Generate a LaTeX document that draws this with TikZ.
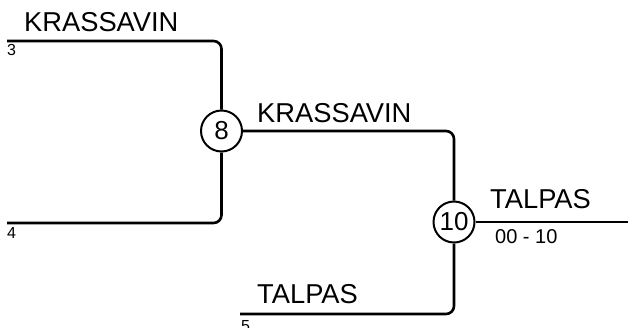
\documentclass[tikz,border=0pt]{standalone}
\usepackage{fontspec}
\setmainfont{Liberation Sans}
\begin{document}
\begin{tikzpicture}[x=1pt,y=-1pt,
  conn/.style={line width=2.6pt, rounded corners=8pt},
  match/.style={circle, draw, line width=2pt, minimum size=41pt, inner sep=0pt, font=\fontsize{26}{26}\selectfont},
  pname/.style={anchor=base west, inner sep=0pt, font=\fontsize{27.3}{28}\selectfont},
  seed/.style={anchor=base west, inner sep=0pt, font=\fontsize{16}{16}\selectfont},
  score/.style={anchor=base west, inner sep=0pt, font=\fontsize{20}{20}\selectfont}]
\useasboundingbox (0,0) rectangle (628,327);
\node[match] (c8) at (221.5,131) {8};
\node[match] (c10) at (454,222) {10};
\coordinate (s3) at (7,41);
\coordinate (s4) at (7,223);
\coordinate (s5) at (240,314);
\coordinate (fin) at (628,222);
\draw[conn] (s3) -| (c8.north);
\draw[conn] (s4) -| (c8.south);
\draw[conn] (c8.east) -| (c10.north);
\draw[conn] (s5) -| (c10.south);
\draw[conn] (c10.east) -- (fin);
\node[pname] (n1) at (24,31) {KRASSAVIN};
\node[pname] (n2) at (257,122) {KRASSAVIN};
\node[pname] (n3) at (490,208) {TALPAS};
\node[pname] (n4) at (257,303) {TALPAS};
\node[seed] (l3) at (7,55.5) {3};
\node[seed] (l4) at (7,238.5) {4};
\node[seed] (l5) at (241,331) {5};
\node[score] (sc) at (495,243) {00 - 10};
\end{tikzpicture}
\end{document}
